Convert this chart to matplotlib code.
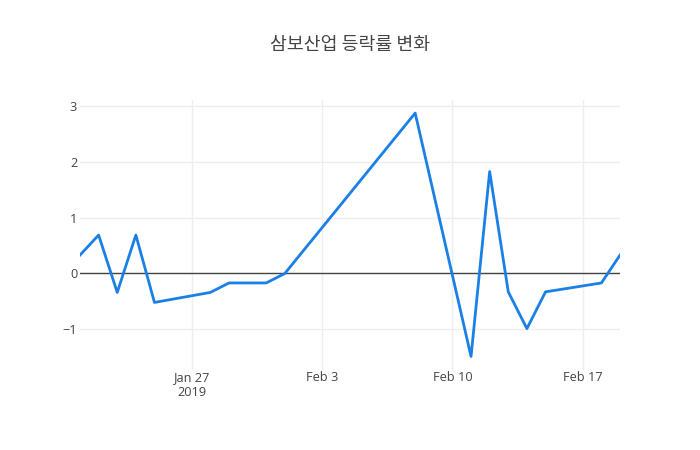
import numpy as np
import pandas as pd
import matplotlib
matplotlib.use('Agg')
import matplotlib.pyplot as plt
import matplotlib.dates as mdates

# ---------------- data ----------------
dates = ['2019-01-21', '2019-01-22', '2019-01-23', '2019-01-24', '2019-01-25',
         '2019-01-28', '2019-01-29', '2019-01-30', '2019-01-31', '2019-02-01',
         '2019-02-08', '2019-02-11', '2019-02-12', '2019-02-13', '2019-02-14',
         '2019-02-15', '2019-02-18', '2019-02-19']
rates = [0.33, 0.69, -0.34, 0.69, -0.52,
         -0.34, -0.17, -0.17, -0.17, 0.0,
         2.88, -1.49, 1.83, -0.33, -0.99,
         -0.33, -0.17, 0.33]

tick_dates = ['2019-01-27', '2019-02-03', '2019-02-10', '2019-02-17']
tick_labels = ['Jan 27\n2019', 'Feb 3', 'Feb 10', 'Feb 17']
y_ticks = [-1, 0, 1, 2, 3]
title = '삼보산업 등락률 변화'

plt.rcParams['font.family'] = ['Open Sans', 'DejaVu Sans']

x = pd.to_datetime(dates)
fig = plt.figure(figsize=(7, 4.5), dpi=100)
ax = fig.add_axes([80 / 700, 80 / 450, 540 / 700, 270 / 450])

ax.plot(x, rates, color='#1a80e6', lw=2, zorder=3)
ax.axhline(0, color='#444444', lw=1, zorder=2)

ax.set_xlim(x[0], x[-1])
ax.set_ylim(-1.733, 3.115)

ax.set_xticks(pd.to_datetime(tick_dates))
ax.set_xticklabels(tick_labels, linespacing=1.15)
ax.set_yticks(y_ticks)
ax.set_yticklabels(['\u22121', '0', '1', '2', '3'])

ax.grid(True, color='#eeeeee', lw=1, zorder=0)
for s in ax.spines.values():
    s.set_visible(False)
ax.tick_params(length=0, labelsize=9.2, colors='#444444')
ax.tick_params(axis='y', pad=2)
ax.tick_params(axis='x', pad=1)

fig.text(0.5, 1 - 45 / 450, title, ha='center', va='center', fontsize=13.2,
         color='#444444', family=['Noto Sans CJK KR', 'DejaVu Sans'])

fig.savefig('out.png', dpi=100)
